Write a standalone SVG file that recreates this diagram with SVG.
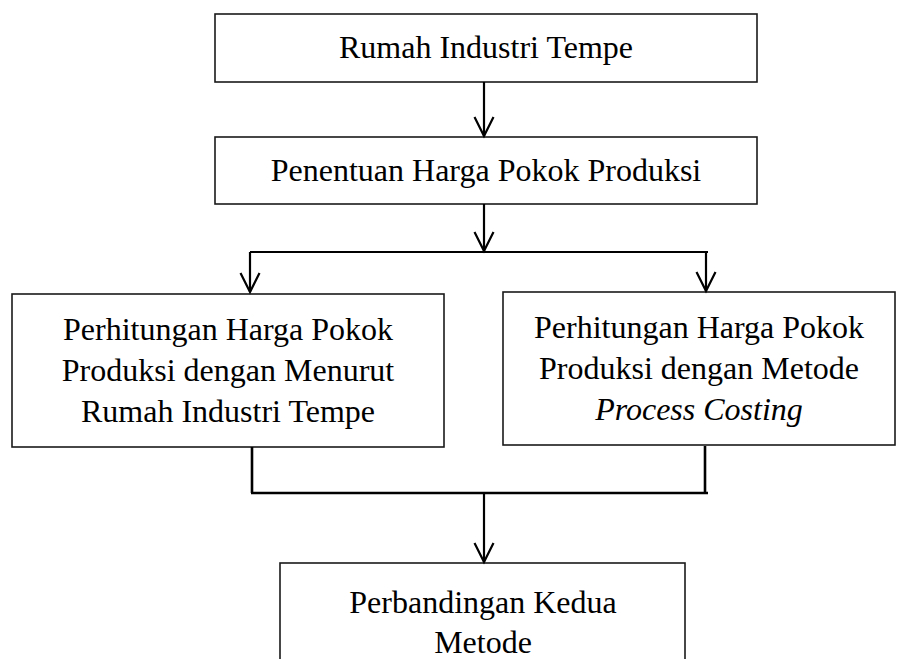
<svg xmlns="http://www.w3.org/2000/svg" width="907" height="659" viewBox="0 0 907 659">
<style>
.box{fill:#fff;stroke:#1a1a1a;stroke-width:1.6}
.t{font-family:"Liberation Serif","Times New Roman",serif;font-size:32px;fill:#000;text-anchor:middle}
.c{fill:none;stroke:#000;stroke-width:2.2}
.c2{fill:none;stroke:#000;stroke-width:2.6}
</style>
<defs>
<marker id="v" markerUnits="userSpaceOnUse" markerWidth="20" markerHeight="20" refX="0" refY="0" orient="auto" overflow="visible">
<path d="M-19,-9.5 L0,0 L-19,9.5" fill="none" stroke="#000" stroke-width="2.2"/>
</marker>
</defs>
<rect width="907" height="659" fill="#fff"/>
<g id="n1"><rect class="box" x="215" y="14" width="542" height="68"/><text class="t" x="486" y="58">Rumah Industri Tempe</text></g>
<g id="n2"><rect class="box" x="215" y="137" width="542" height="67"/><text class="t" x="486" y="181">Penentuan Harga Pokok Produksi</text></g>
<g id="n3"><rect class="box" x="12" y="294" width="432" height="153"/>
<text class="t" x="228" y="340">Perhitungan Harga Pokok</text>
<text class="t" x="228" y="381">Produksi dengan Menurut</text>
<text class="t" x="228" y="422">Rumah Industri Tempe</text></g>
<g id="n4"><rect class="box" x="503" y="292" width="392" height="153"/>
<text class="t" x="699" y="338">Perhitungan Harga Pokok</text>
<text class="t" x="699" y="379">Produksi dengan Metode</text>
<text class="t" x="699" y="420" font-style="italic">Process Costing</text></g>
<g id="n5"><rect class="box" x="280" y="563" width="405" height="140"/>
<text class="t" x="483" y="613">Perbandingan Kedua</text>
<text class="t" x="483" y="653">Metode</text></g>
<g id="connectors">
<line class="c" x1="484" y1="82" x2="484" y2="136" marker-end="url(#v)"/>
<line class="c" x1="484" y1="204" x2="484" y2="251" marker-end="url(#v)"/>
<line class="c" x1="250" y1="252" x2="708" y2="252"/>
<line class="c" x1="250" y1="252" x2="250" y2="292" marker-end="url(#v)"/>
<line class="c" x1="706" y1="252" x2="706" y2="291" marker-end="url(#v)"/>
<line class="c2" x1="252" y1="447" x2="252" y2="493"/>
<line class="c2" x1="705" y1="446" x2="705" y2="493"/>
<line class="c2" x1="251" y1="493" x2="708" y2="493"/>
<line class="c" x1="484" y1="493" x2="484" y2="562" marker-end="url(#v)"/>
</g>
</svg>
